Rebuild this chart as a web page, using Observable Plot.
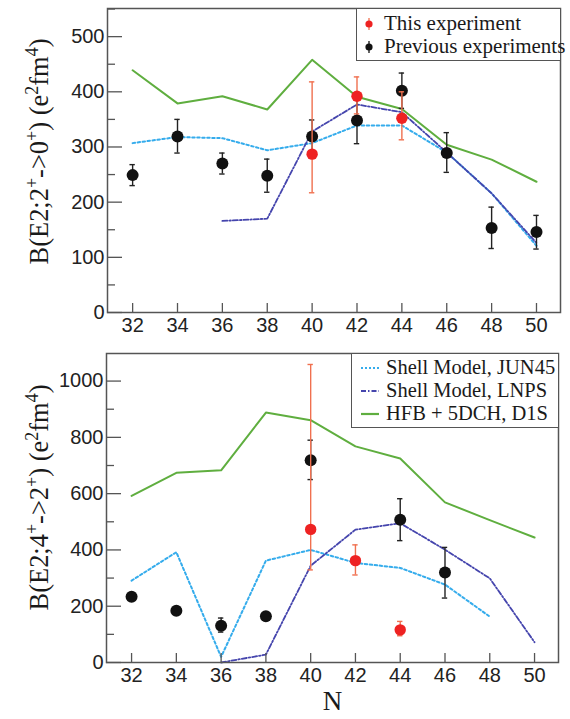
<!DOCTYPE html>
<html><head><meta charset="utf-8">
<script src="https://cdn.jsdelivr.net/npm/d3@7"></script>
<script src="https://cdn.jsdelivr.net/npm/@observablehq/plot@0.6"></script>
<style>
body{margin:0;background:#fff;}
#wrap{position:relative;width:570px;height:719px;overflow:hidden;background:#fff}
.panel{position:absolute;left:0}
.legend{position:absolute;border:1.5px solid #555;background:#fff;box-sizing:border-box;font-family:"Liberation Serif","Times New Roman",serif;color:#1a1a1a}
.row{position:absolute;left:0;display:flex;align-items:center;white-space:nowrap}
.row svg{flex:none}
</style></head><body><div id="wrap"></div>
<script>
// ---------- data ----------
const N = [32, 34, 36, 38, 40, 42, 44, 46, 48, 50];

// Top panel: B(E2; 2+ -> 0+)
const hfb2 = [439, 379, 392, 368, 458, 391, 369, 304, 277, 237];
const jun2N = [32, 34, 36, 38, 40, 42, 44, 46, 48, 50];
const jun2 = [307, 318, 316, 294, 307, 339, 339, 290, 216, 121];
const lnps2N = [36, 38, 40, 42, 44, 46, 48, 50];
const lnps2 = [166, 170, 328, 377, 363, 290, 216, 126];
const prev2N = [32, 34, 36, 38, 40, 42, 44, 46, 48, 50];
const prev2 = [249, 319, 270, 248, 319, 348, 402, 289, 153, 146];
const prev2Lo = [230, 289, 251, 218, 289, 306, 370, 254, 116, 115];
const prev2Hi = [268, 350, 289, 278, 349, 390, 434, 326, 191, 176];
const this2N = [40, 42, 44];
const this2 = [287, 392, 352];
const this2Lo = [217, 360, 313];
const this2Hi = [418, 427, 400];

// Bottom panel: B(E2; 4+ -> 2+)
const hfb4 = [592, 674, 683, 888, 861, 768, 725, 569, 506, 444];
const jun4N = [32, 34, 36, 38, 40, 42, 44, 46, 48];
const jun4 = [291, 392, 20, 362, 400, 354, 336, 277, 163];
const lnps4N = [36, 38, 40, 42, 44, 46, 48, 50];
const lnps4 = [0, 28, 344, 472, 495, 401, 299, 72];
const prev4N = [32, 34, 36, 38, 40, 44, 46];
const prev4 = [234, 184, 131, 164, 719, 507, 320];
const prev4Lo = [226, 176, 108, 156, 650, 433, 229];
const prev4Hi = [242, 192, 158, 172, 790, 582, 409];
const this4N = [40, 42, 44];
const this4 = [473, 362, 116];
const this4Lo = [329, 311, 95];
const this4Hi = [1059, 418, 146];

const yMajor2 = [0, 100, 200, 300, 400, 500];
const yMinor2 = [50, 150, 250, 350, 450, 550];
const yMajor4 = [0, 200, 400, 600, 800, 1000];
const yMinor4 = [100, 300, 500, 700, 900];

// ^{...} marks a superscript
const ylabel2 = "B(E2;2^{+}->0^{+}) (e^{2}fm^{4})";
const ylabel4 = "B(E2;4^{+}->2^{+}) (e^{2}fm^{4})";
const xlabel = "N";

const legendPoints = ["This experiment", "Previous experiments"];
const legendLines = ["Shell Model, JUN45", "Shell Model, LNPS", "HFB + 5DCH, D1S"];

// ---------- styles ----------
const GREEN = "#5fae3f", LBLUE = "#35acec", DBLUE = "#4545ad", RED = "#ee2222", REDBAR = "#f0704f", BLACK = "#111";
const SERIF = "Liberation Serif";
const SANS = "'Liberation Sans',Arial,Helvetica,sans-serif";
const YLABEL_LEN = 226; // target length of the rotated axis title, px

const pts = (xs, ys) => xs.map((n, i) => ({n, v: ys[i]}));
const errs = (xs, ys, lo, hi) => xs.map((n, i) => ({n, v: ys[i], lo: lo[i], hi: hi[i]}));
const plain = s => s.replace(/\^\{([^}]*)\}/g, "$1");
const rich = s => s.replace(/&/g, "&amp;").replace(/</g, "&lt;").replace(/>/g, "&gt;")
  .replace(/\^\{([^}]*)\}/g, '<tspan baseline-shift="super" font-size="68%">$1</tspan>');

function panel(o) {
  const cap = 0.12;
  const errMarks = (data, color) => [
    Plot.ruleX(data, {x: "n", y1: "lo", y2: "hi", stroke: color, strokeWidth: 1.4}),
    Plot.ruleY(data, {y: "hi", x1: d => d.n - cap, x2: d => d.n + cap, stroke: color, strokeWidth: 1.4}),
    Plot.ruleY(data, {y: "lo", x1: d => d.n - cap, x2: d => d.n + cap, stroke: color, strokeWidth: 1.4})
  ];
  const svg = Plot.plot({
    width: 570, height: o.height,
    marginTop: o.mt, marginBottom: o.mb, marginLeft: o.ml, marginRight: o.mr,
    style: {fontFamily: SANS, fontSize: "20px", color: "#222", background: "#fff", overflow: "visible"},
    x: {domain: [30.88, 51.07], axis: null},
    y: {domain: o.yDomain, axis: null},
    marks: [
      Plot.line(pts(N, o.hfb), {x: "n", y: "v", stroke: GREEN, strokeWidth: 2}),
      Plot.line(pts(o.junN, o.jun), {x: "n", y: "v", stroke: LBLUE, strokeWidth: 2, strokeDasharray: "2.5,2.5"}),
      Plot.line(pts(o.lnpsN, o.lnps), {x: "n", y: "v", stroke: DBLUE, strokeWidth: 1.8, strokeDasharray: "5,2,1.5,2"}),
      ...errMarks(o.prev, "#222"),
      Plot.dot(o.prev, {x: "n", y: "v", r: 6, fill: BLACK}),
      ...errMarks(o.cur, REDBAR),
      Plot.dot(o.cur, {x: "n", y: "v", r: 5.7, fill: RED}),
      Plot.frame({stroke: "#555", strokeWidth: 1.5}),
      Plot.axisY(o.yMajor, {tickSize: 0, tickPadding: 3, tickFormat: d3.format("d"), label: null}),
      Plot.axisY(o.yMajor, {tickSize: -15, tickFormat: () => "", label: null, stroke: "#555", strokeWidth: 1.3}),
      Plot.axisY(o.yMinor, {tickSize: -8, tickFormat: () => "", label: null, stroke: "#555", strokeWidth: 1.3}),
      Plot.axisX(N, {tickSize: 0, tickPadding: 5, tickFormat: d3.format("d"), label: null}),
      Plot.axisX(N, {tickSize: -9, tickFormat: () => "", label: null, stroke: "#555", strokeWidth: 1.3}),
      Plot.text([plain(o.ylabel)], {text: d => d, frameAnchor: "left", textAnchor: "middle", lineAnchor: "middle",
        dx: o.ylabelDx, dy: o.ylabelDy, rotate: -90, fontFamily: SERIF, fontSize: 26, fill: "#1a1a1a"}),
      ...(o.xlabel ? [Plot.text([o.xlabel], {text: d => d, frameAnchor: "bottom", textAnchor: "middle", dy: 47,
        fontFamily: SERIF, fontSize: 27, fill: "#1a1a1a"})] : [])
    ]
  });
  // render the superscripts of the axis title as real SVG tspans
  svg.querySelectorAll("text").forEach(t => {
    if (t.textContent === plain(o.ylabel)) {
      t.innerHTML = rich(o.ylabel);
      t.setAttribute("data-ylabel", "1");
    }
  });
  return svg;
}
function fitLabel(svg) {
  const t = svg.querySelector("text[data-ylabel]");
  if (!t) return;
  const L = t.getComputedTextLength();
  if (L > 0) t.setAttribute("font-size", Math.max(20, Math.min(27, 26 * YLABEL_LEN / L)));
}

const wrap = document.getElementById("wrap");

const topPanel = panel({
  height: 340, mt: 8, mb: 28, ml: 107, mr: 10, yDomain: [0, 551],
  hfb: hfb2, junN: jun2N, jun: jun2, lnpsN: lnps2N, lnps: lnps2,
  prev: errs(prev2N, prev2, prev2Lo, prev2Hi), cur: errs(this2N, this2, this2Lo, this2Hi),
  yMajor: yMajor2, yMinor: yMinor2, ylabel: ylabel2, ylabelDx: -68, ylabelDy: -9
});
topPanel.classList.add("panel"); topPanel.style.top = "0px";
wrap.appendChild(topPanel);
fitLabel(topPanel);

const botPanel = panel({
  height: 379, mt: 13, mb: 57, ml: 106, mr: 12, yDomain: [0, 1098],
  hfb: hfb4, junN: jun4N, jun: jun4, lnpsN: lnps4N, lnps: lnps4,
  prev: errs(prev4N, prev4, prev4Lo, prev4Hi), cur: errs(this4N, this4, this4Lo, this4Hi),
  yMajor: yMajor4, yMinor: yMinor4, ylabel: ylabel4, ylabelDx: -67, ylabelDy: -10.5, xlabel
});
botPanel.classList.add("panel"); botPanel.style.top = "340px";
wrap.appendChild(botPanel);
fitLabel(botPanel);

// ---------- legends ----------
function legendBox(left, topPx, w, h, rows, fontSize) {
  const box = document.createElement("div");
  box.className = "legend";
  Object.assign(box.style, {left: left + "px", top: topPx + "px", width: w + "px", height: h + "px", fontSize: fontSize + "px"});
  rows.forEach(r => {
    const row = document.createElement("div");
    row.className = "row";
    row.style.top = r.top + "px";
    row.style.left = r.left + "px";
    row.innerHTML = r.sym + `<span style="margin-left:${r.gap}px">${r.text}</span>`;
    box.appendChild(row);
  });
  wrap.appendChild(box);
}
const dotSym = (c, bar) => `<svg width="12" height="16"><line x1="6" x2="6" y1="2" y2="14" stroke="${bar}" stroke-width="1.3"/><circle cx="6" cy="8" r="3.6" fill="${c}"/></svg>`;
const lineSym = (c, dash, sw) => `<svg width="20" height="10"><line x1="1" x2="19" y1="5" y2="5" stroke="${c}" stroke-width="${sw}" ${dash ? `stroke-dasharray="${dash}"` : ""}/></svg>`;

legendBox(356, 8, 205, 53, [
  {top: 2, left: 6, gap: 9, text: legendPoints[0], sym: dotSym(RED, REDBAR)},
  {top: 25, left: 6, gap: 9, text: legendPoints[1], sym: dotSym(BLACK, BLACK)}
], 21);

legendBox(351, 353, 208, 75, [
  {top: 2, left: 8, gap: 6, text: legendLines[0], sym: lineSym(LBLUE, "2,2", 2)},
  {top: 25, left: 8, gap: 6, text: legendLines[1], sym: lineSym(DBLUE, "5,2,1.5,2", 1.8)},
  {top: 48, left: 8, gap: 6, text: legendLines[2], sym: lineSym(GREEN, "", 2.2)}
], 20.5);
</script>
</body></html>
